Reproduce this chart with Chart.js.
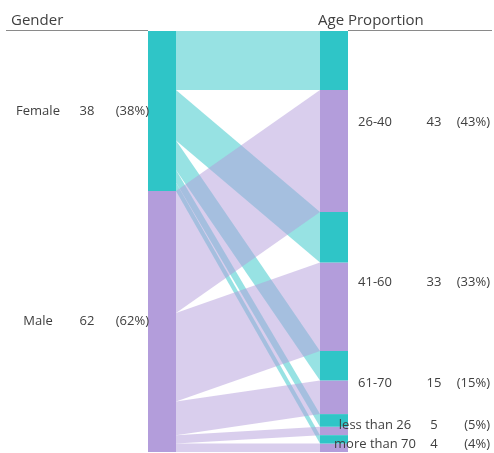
<!DOCTYPE html>
<html>
<head>
<meta charset="utf-8">
<script src="https://cdn.jsdelivr.net/npm/chart.js@4.4.1/dist/chart.umd.min.js"></script>
<style>
  html, body { margin: 0; padding: 0; background: #fff; overflow: hidden; }
  canvas { display: block; }
</style>
</head>
<body>
<canvas id="sankeyChart" width="494" height="453"></canvas>
<script>
// ---- data ----
const sources = ['Female', 'Male'];
const targets = ['26-40', '41-60', '61-70', 'less than 26', 'more than 70'];
const femaleToAge = [14, 12, 7, 3, 2];
const maleToAge = [29, 21, 8, 2, 2];
const flows = [femaleToAge, maleToAge];

const nodeColors = ['#2fc5c7', '#b39ddb'];
const flowColors = ['rgba(47,197,199,0.5)', 'rgba(179,157,219,0.5)'];
const NODE_W = 0.14;

// ---- layout in value units ----
const sum = arr => arr.reduce((a, b) => a + b, 0);
const sourceTotals = flows.map(sum);
const targetTotals = targets.map((_, t) => sum(flows.map(f => f[t])));
const grandTotal = sum(sourceTotals);

const srcStart = sourceTotals.map((_, s) => sum(sourceTotals.slice(0, s)));
const tgtStart = targetTotals.map((_, t) => sum(targetTotals.slice(0, t)));
const leftY = flows.map((f, s) => f.map((_, t) => srcStart[s] + sum(f.slice(0, t))));
const rightY = flows.map((f, s) => f.map((_, t) => tgtStart[t] + sum(flows.slice(0, s).map(g => g[t]))));

const datasets = [];
function band(x0, x1, topL, botL, topR, botR, color, order) {
    const common = { borderWidth: 0, borderColor: 'transparent', pointRadius: 0, tension: 0, order: order };
    datasets.push({ ...common, data: [{ x: x0, y: topL }, { x: x1, y: topR }], fill: false });
    datasets.push({ ...common, data: [{ x: x0, y: botL }, { x: x1, y: botR }], fill: '-1', backgroundColor: color });
}

// flows (female drawn first, male on top)
flows.forEach((f, s) => {
    f.forEach((v, t) => {
        band(NODE_W, 1 - NODE_W,
             leftY[s][t], leftY[s][t] + v,
             rightY[s][t], rightY[s][t] + v,
             flowColors[s], 2 - s);
    });
});

// nodes
sources.forEach((_, s) => {
    const a = srcStart[s], b = srcStart[s] + sourceTotals[s];
    band(0, NODE_W, a, b, a, b, nodeColors[s], 0);
});
flows.forEach((f, s) => {
    f.forEach((v, t) => {
        const a = rightY[s][t], b = rightY[s][t] + v;
        band(1 - NODE_W, 1, a, b, a, b, nodeColors[s], 0);
    });
});

// ---- labels and headers ----
const labelPlugin = {
    id: 'nodeLabels',
    afterDatasetsDraw(chart) {
        const { ctx, scales: { y } } = chart;
        ctx.save();
        ctx.fillStyle = '#404040';

        // headers
        ctx.font = '15px "Open Sans", sans-serif';
        ctx.textBaseline = 'alphabetic';
        ctx.textAlign = 'left';
        ctx.fillText('Gender', 11, 25);
        ctx.fillText('Age Proportion', 318, 25);
        ctx.strokeStyle = '#8a8a8a';
        ctx.lineWidth = 1;
        ctx.beginPath();
        ctx.moveTo(6, 30.5); ctx.lineTo(148, 30.5);
        ctx.moveTo(348, 30.5); ctx.lineTo(492, 30.5);
        ctx.stroke();

        ctx.font = '13px "Open Sans", sans-serif';
        ctx.textBaseline = 'middle';
        sources.forEach((name, s) => {
            const yc = y.getPixelForValue(srcStart[s] + sourceTotals[s] / 2);
            const v = sourceTotals[s];
            ctx.textAlign = 'center';
            ctx.fillText(name, 38, yc);
            ctx.fillText(String(v), 87, yc);
            ctx.textAlign = 'right';
            ctx.fillText('(' + Math.round(v / grandTotal * 100) + '%)', 149, yc);
        });
        targets.forEach((name, t) => {
            const yc = y.getPixelForValue(tgtStart[t] + targetTotals[t] / 2) + 1;
            const v = targetTotals[t];
            ctx.textAlign = 'center';
            ctx.fillText(name, 375, yc);
            ctx.fillText(String(v), 434, yc);
            ctx.textAlign = 'right';
            ctx.fillText('(' + Math.round(v / grandTotal * 100) + '%)', 490, yc);
        });
        ctx.restore();
    }
};

new Chart(document.getElementById('sankeyChart'), {
    type: 'line',
    data: { datasets: datasets },
    options: {
        responsive: false,
        animation: false,
        devicePixelRatio: 1,
        layout: { padding: { left: 148, right: 146, top: 31, bottom: 1 } },
        plugins: { legend: { display: false }, tooltip: { enabled: false } },
        scales: {
            x: { type: 'linear', min: 0, max: 1, display: false },
            y: { type: 'linear', min: 0, max: grandTotal, reverse: true, display: false }
        }
    },
    plugins: [labelPlugin]
});
</script>
</body>
</html>
